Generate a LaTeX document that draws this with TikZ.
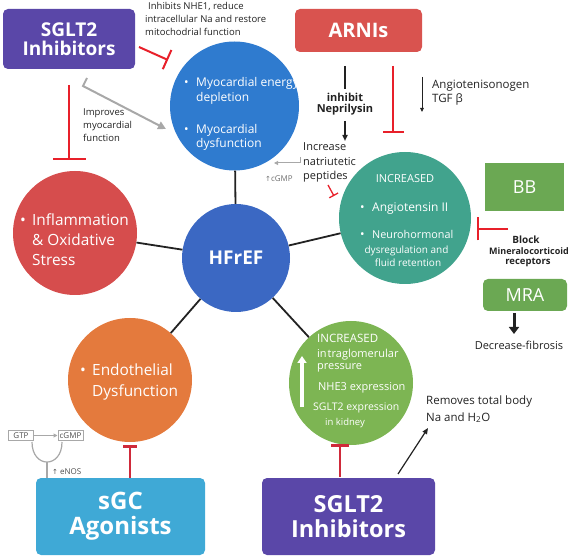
\documentclass[tikz,border=0pt]{standalone}
\usepackage{fontspec}
\setmainfont{Open Sans}
\newfontfamily\djv{DejaVu Sans}
\usetikzlibrary{arrows.meta}
\definecolor{cpurple}{HTML}{5A47A8}
\definecolor{carni}{HTML}{D9534F}
\definecolor{cmyo}{HTML}{2F7BCF}
\definecolor{chf}{HTML}{3B68C3}
\definecolor{cinfl}{HTML}{D64D4D}
\definecolor{corange}{HTML}{E47A3D}
\definecolor{cgreen}{HTML}{7DB553}
\definecolor{cteal}{HTML}{41A38D}
\definecolor{cbb}{HTML}{6BA853}
\definecolor{csgc}{HTML}{3FA9D6}
\definecolor{cinh}{HTML}{E8202A}
\definecolor{cinhd}{HTML}{CF2A3A}
\definecolor{cgray}{HTML}{A8A8A8}
\definecolor{cgrayt}{HTML}{707070}
\definecolor{ctext}{HTML}{222222}
\newcommand\myfs[2]{\fontsize{#1}{#2}\selectfont}
\begin{document}
\begin{tikzpicture}[x=1pt,y=-1pt,
  circ/.style={circle, inner sep=0pt, minimum size=#1},
  boxr/.style={rounded corners=5pt, inner sep=0pt, text=white, align=center},
  tl/.style={inner sep=0pt, anchor=base west, text=ctext},
  tc/.style={inner sep=0pt, anchor=base, text=ctext},
  wl/.style={inner sep=0pt, anchor=base west, text=white},
  wc/.style={inner sep=0pt, anchor=base, text=white},
  link/.style={draw=ctext, line width=1.8pt},
  inh/.style={draw=cinh, line width=2pt, -{Bar[width=#1]}},
  inhd/.style={draw=cinhd, line width=2.5pt, -{Bar[width=#1]}},
  garrow/.style={draw=cgray, line width=2pt, -{Triangle[length=8pt,width=8pt]}},
  barrow/.style={draw=ctext, -{Triangle[length=6pt,width=5pt]}},
  gbox/.style={draw=cgray, line width=1pt, inner sep=0pt, minimum width=25pt, minimum height=10pt, text=cgrayt, font=\myfs{8}{9}}
]
\useasboundingbox (0,0) rectangle (574,559);

% ---------- circles ----------
\node[circ=129pt, fill=cmyo] (myo) at (234.5,106) {};
\node[circ=132pt, fill=cteal] (teal) at (405,218) {};
\node[circ=124pt, fill=cinfl] (infl) at (75,233) {};
\node[circ=124pt, fill=corange] (endo) at (130,380) {};
\node[circ=124pt, fill=cgreen] (kid) at (351,383) {};
\node[circ=108pt, fill=chf, text=white, font=\myfs{19}{22}\bfseries] (hf) at (236,258) {HFrEF};

% spokes
\draw[link] (myo) -- (hf);
\draw[link] (infl) -- (hf);
\draw[link] (endo) -- (hf);
\draw[link] (kid) -- (hf);
\draw[link] (teal) -- (hf);

% ---------- boxes ----------
\node[boxr, fill=cpurple, minimum width=132pt, minimum height=60pt, font=\myfs{19}{19.5}\bfseries] (sgtop) at (69,39) {SGLT2\\Inhibitors};
\node[boxr, fill=carni, minimum width=127pt, minimum height=43pt, font=\myfs{20}{22}\bfseries] (arni) at (358.5,30.5) {ARNIs};
\node[inner sep=0pt, fill=cbb, text=white, minimum width=79pt, minimum height=48pt, font=\myfs{18}{20}] (bb) at (524.5,187) {BB};
\node[boxr, fill=cbb, minimum width=84pt, minimum height=32pt, font=\myfs{18}{20}] (mra) at (525,295) {MRA};
\node[boxr, fill=csgc, minimum width=169pt, minimum height=77pt, font=\myfs{24}{25}\bfseries] (sgc) at (120.5,516.5) {sGC\\Agonists};
\node[boxr, fill=cpurple, minimum width=173pt, minimum height=77pt, font=\myfs{23.5}{25}\bfseries] (sgbot) at (348.5,516.5) {SGLT2\\Inhibitors};

% ---------- circle texts ----------
\begin{scope}[font=\myfs{12}{14}]
\node[wl] (b1) at (184,87) {•};
\node[wl] (m1) at (196,87) {Myocardial energy};
\node[wl] (m2) at (196,102) {depletion};
\node[wl] (b2) at (184,134) {•};
\node[wl] (m3) at (196,134) {Myocardial};
\node[wl] (m4) at (196,148) {dysfunction};
\end{scope}
\begin{scope}[font=\myfs{15.4}{18}]
\node[wl] (b3) at (20,226) {•};
\node[wl] (i1) at (32,226) {Inflammation};
\node[wl] (i2) at (32,246) {\& Oxidative};
\node[wl] (i3) at (32,266) {Stress};
\node[wl] (b4) at (80,375) {•};
\node[wl] (e1) at (92,375) {Endothelial};
\node[wl] (e2) at (92,396) {Dysfunction};
\end{scope}
\node[wc, font=\myfs{11}{13}] (t1) at (405,183) {INCREASED};
\node[wl, font=\myfs{12}{14}] (b5) at (360,212) {•};
\node[wl, font=\myfs{12}{14}] (t2) at (372,212) {Angiotensin II};
\node[wl, font=\myfs{12}{14}] (b6) at (360,239) {•};
\node[wl, font=\myfs{10.8}{13}] (t3) at (372,239) {Neurohormonal};
\node[wc, font=\myfs{10}{12}] (t4) at (406.5,254) {dysregulation and};
\node[wc, font=\myfs{10}{12}] (t5) at (408,267) {fluid retention};

\node[wl, font=\myfs{11.5}{13}] (k1) at (317,342) {INCREASED};
\node[wl, font=\myfs{11}{13}] (k2) at (317,358) {in\kern1pt traglomerular};
\node[wl, font=\myfs{11}{13}] (k3) at (317,370) {pressure};
\node[wl, font=\myfs{11}{13}] (k4) at (318,390) {NHE3 expression};
\node[wl, font=\myfs{10.5}{13}] (k5) at (313,410) {SGLT2 expression};
\node[wl, font=\myfs{9.5}{12}] (k6) at (325,425) {in kidney};
\coordinate (ua) at (302,407);
\coordinate (ub) at (302,356);
\draw[white, line width=3.5pt, -{Triangle[length=7pt,width=9pt]}] (ua) -- (ub);

% ---------- annotation texts ----------
\begin{scope}[font=\myfs{9.5}{12}]
\node[tl] (n1) at (148,10) {Inhibits NHE1, reduce};
\node[tl] (n2) at (145,23) {intracellular Na and restore};
\node[tl] (n3) at (145,36) {mitochodrial function};
\node[tl] (p1) at (83,116) {Improves};
\node[tl] (p2) at (83,129) {myocardial};
\node[tl] (p3) at (83,142) {function};
\end{scope}
\node[tc, font=\myfs{11}{12}\bfseries] (ne1) at (345,102) {inhibit};
\node[tc, font=\myfs{11}{12}\bfseries] (ne2) at (345,113) {Neprilysin};
\node[tl, font=\myfs{11.5}{13}] (an1) at (432,89) {Angiotenisonogen};
\node[tl, font=\myfs{11.5}{13}] (an2) at (432,103) {TGF β};
\node[tl, font=\myfs{11}{13}] (na1) at (303,151) {Increase};
\node[tl, font=\myfs{11}{13}] (na2) at (303,166) {natriutetic};
\node[tl, font=\myfs{11}{13}] (na3) at (303,180) {peptides};
\node[tl, text=cgrayt, font=\myfs{8}{9}] (cg) at (265,182) {{\djv\myfs{7}{9}↑}cGMP};
\node[tc, font=\myfs{10}{12}\bfseries] (bl1) at (526,244) {Block};
\node[tc, font=\myfs{9}{11}\bfseries] (bl2) at (529,255) {Mineralocorticoid};
\node[tc, font=\myfs{9.5}{11}\bfseries] (bl3) at (528,265) {receptors};
\node[tc, font=\myfs{11}{13}] (df) at (519,350) {Decrease-fibrosis};
\node[tl, font=\myfs{11.5}{13}] (rm1) at (426,404) {Removes total body};
\node[tl, font=\myfs{11.5}{13}] (rm2) at (426,421) {Na and H\textsubscript{2}O};

% ---------- connectors ----------
% SGLT2 top
\coordinate (s1a) at (139,47);
\coordinate (s1b) at (168,60);
\draw[inh=21pt] (s1a) -- (s1b);
\coordinate (s2a) at (69,85);
\coordinate (s2b) at (69,160);
\draw[inh=33pt] (s2a) -- (s2b);
\coordinate (g1a) at (87,78);
\coordinate (g1m) at (83,86);
\coordinate (g1b) at (166,129);
\draw[garrow] (g1a) -- (g1m) -- (g1b);
% ARNIs
\coordinate (a1a) at (345,66);
\coordinate (a1b) at (345,89);
\draw[draw=ctext, line width=1.8pt] (a1a) -- (a1b);
\coordinate (a2a) at (345,121);
\coordinate (a2b) at (345,141);
\draw[barrow, line width=1.8pt] (a2a) -- (a2b);
\coordinate (a3a) at (393,66);
\coordinate (a3b) at (393,133);
\draw[inh=21pt] (a3a) -- (a3b);
\coordinate (a4a) at (422,77);
\coordinate (a4b) at (422,112);
\draw[barrow, line width=0.9pt, -{Triangle[length=4pt,width=3.5pt]}] (a4a) -- (a4b);
% natriuretic gray arrow and small inhibitor
\coordinate (c1a) at (300,157);
\coordinate (c1m) at (300,163);
\coordinate (c1b) at (274,163);
\draw[draw=cgray, line width=1pt, -{Triangle[length=4pt,width=4pt]}] (c1a) -- (c1m) -- (c1b);
\coordinate (r1a) at (328,185);
\coordinate (r1b) at (334,196);
\draw[draw=cinh, line width=1.3pt, -{Bar[width=10pt]}] (r1a) -- (r1b);
% MRA / BB
\coordinate (m1a) at (508,229);
\coordinate (m1b) at (477,229);
\draw[inh=23pt] (m1a) -- (m1b);
\coordinate (m2a) at (514,313);
\coordinate (m2b) at (514,334);
\draw[draw=ctext, line width=3pt, -{Triangle[length=7pt,width=10pt]}] (m2a) -- (m2b);
% bottom
\coordinate (q1a) at (130,478);
\coordinate (q1b) at (130,445);
\draw[inhd=14pt] (q1a) -- (q1b);
\coordinate (q2a) at (340,477);
\coordinate (q2b) at (340,444);
\draw[inhd=18pt] (q2a) -- (q2b);
\coordinate (q3a) at (398,474);
\coordinate (q3b) at (428,428);
\draw[barrow, line width=1.2pt, -{Triangle[length=6pt,width=5pt]}] (q3a) -- (q3b);

% GTP -> cGMP
\node[gbox, text=ctext!80] (gtp) at (21,435.5) {GTP};
\node[gbox, text=ctext!80] (cgmp) at (70.5,435.5) {cGMP};
\draw[draw=cgray, line width=1pt, -{Triangle[length=4pt,width=4pt]}] (gtp) -- (cgmp);
\coordinate (ul) at (32,442);
\coordinate (ur) at (62,442);
\coordinate (us) at (47,462);
\coordinate (ue) at (47,478);
\draw[draw=cgray, line width=1.2pt] (ul) .. controls (32,468.7) and (62,468.7) .. (ur);
\draw[draw=cgray, line width=1.2pt] (us) -- (ue);
\node[tl, text=ctext!80, font=\myfs{8}{9}] (en) at (52,475) {{\djv\myfs{7}{9}↑} eNOS};
\end{tikzpicture}
\end{document}
